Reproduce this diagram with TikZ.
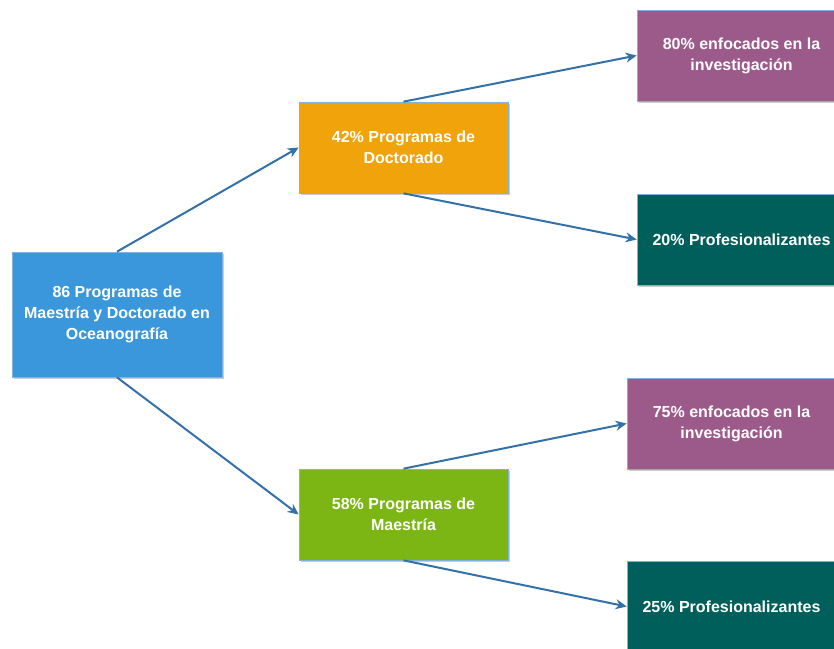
\documentclass[tikz,border=0pt]{standalone}
\usepackage{fontspec}
\setmainfont{Liberation Sans}
\usetikzlibrary{shadows,arrows.meta}
\definecolor{cblue}{HTML}{3A97DB}
\definecolor{corange}{HTML}{F0A30A}
\definecolor{cgreen}{HTML}{7BB614}
\definecolor{cpurple}{HTML}{9B5A8A}
\definecolor{cteal}{HTML}{005F5A}
\definecolor{cedge}{HTML}{7FB2E0}
\definecolor{carrow}{HTML}{3371A8}
\begin{document}
\begin{tikzpicture}[x=1pt,y=-1pt,
  box/.style={draw=cedge, line width=0.7pt, text=white,
    font=\bfseries\fontsize{16}{21}\selectfont, align=center,
    minimum width=209pt, minimum height=91pt, inner sep=0pt,
    drop shadow={opacity=0.4, shadow xshift=1.5pt, shadow yshift=-2pt}},
  conn/.style={draw=carrow, line width=2pt, -{Stealth[length=11pt,width=10pt]}}]
\useasboundingbox (0,0) rectangle (834,648);
\clip (0,0) rectangle (834,648);
\node[box, fill=cblue, minimum width=210pt, minimum height=125pt] (root) at (117,314.5)
  {86 Programas de\\Maestría y Doctorado en\\Oceanografía};
\node[box, fill=corange] (doc) at (403.5,147.5) {42\% Programas de\\Doctorado};
\node[box, fill=cgreen] (mae) at (403.5,514.5) {58\% Programas de\\Maestría};
\node[box, fill=cpurple] (r1) at (741.5,55.5) {80\% enfocados en la\\investigación};
\node[box, fill=cteal] (r2) at (741.5,239.5) {20\% Profesionalizantes};
\node[box, fill=cpurple] (r3) at (731.5,423.5) {75\% enfocados en la\\investigación};
\node[box, fill=cteal] (r4) at (731.5,606.5) {25\% Profesionalizantes};
\draw[conn] (root.north) -- (doc.west);
\draw[conn] (root.south) -- (mae.west);
\draw[conn] (doc.north) -- (r1.west);
\draw[conn] (doc.south) -- (r2.west);
\draw[conn] (mae.north) -- (r3.west);
\draw[conn] (mae.south) -- (r4.west);
\end{tikzpicture}
\end{document}
